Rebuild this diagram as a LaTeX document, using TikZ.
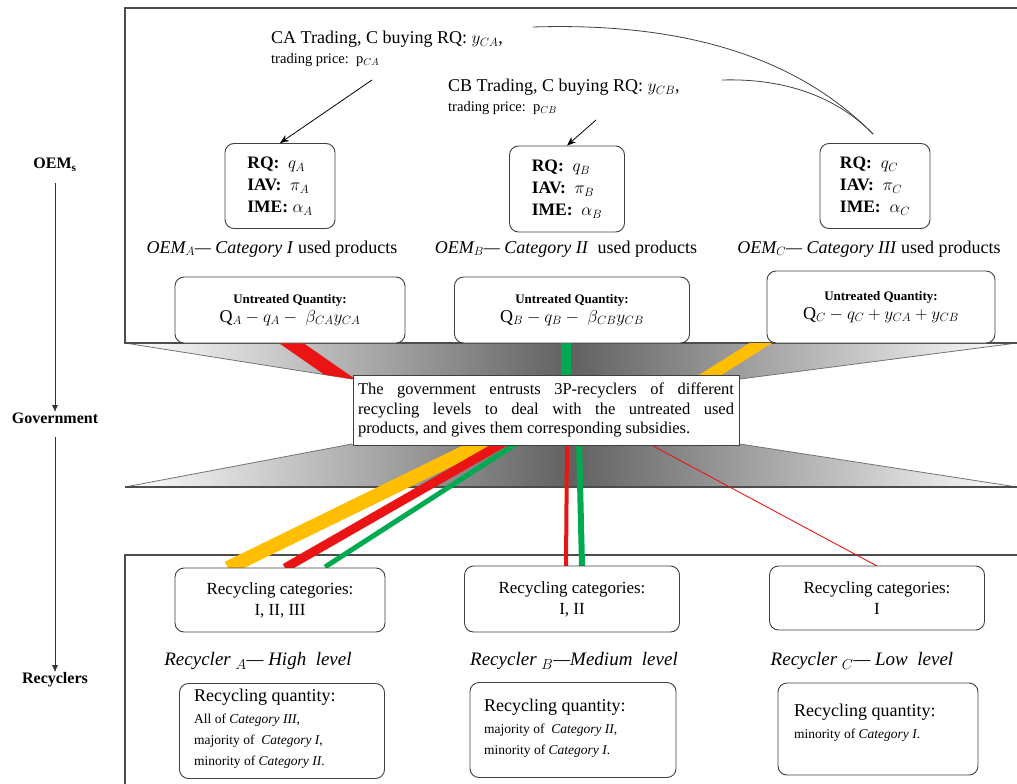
\documentclass[tikz,border=0pt]{standalone}
\usepackage{fontspec}
\setmainfont{Liberation Serif}
\usetikzlibrary{arrows.meta,calc}
\definecolor{cred}{RGB}{235,20,20}
\definecolor{cgreen}{RGB}{0,170,80}
\definecolor{corange}{RGB}{255,190,0}
\begin{document}
\begin{tikzpicture}[x=1pt,y=-1pt,
  rbox/.style={draw=black!75, rounded corners=9pt, line width=0.9pt, fill=white, inner sep=0pt},
  frame/.style={draw=black!70, line width=1.4pt},
  side/.style={font=\bfseries\fontsize{16}{19}\selectfont},
  main/.style={font=\fontsize{18}{20}\selectfont},
  flow/.style={-{Latex[length=7pt,width=6pt]}, line width=0.8pt, black!80},
  tarrow/.style={-{Stealth[length=9pt,width=7pt]}, line width=0.8pt},
  catbox/.style={rbox, minimum width=210pt, minimum height=64pt, align=center, font=\fontsize{17}{21}\selectfont},
  qbox/.style={rbox, minimum width=205pt, minimum height=95pt},
  qtext/.style={anchor=north west, align=left, inner sep=0pt, font=\fontsize{13.5}{21}\selectfont},
  rqbox/.style={rbox, minimum width=110pt, minimum height=85pt, align=left, font=\fontsize{17.5}{22}\selectfont},
  ubox/.style={rbox, minimum height=66pt, align=center},
  lvl/.style={font=\itshape\fontsize{19}{22}\selectfont},
  oemlbl/.style={font=\fontsize{18}{21}\selectfont}
]
\useasboundingbox (0,0) rectangle (1017,784);

% ---------- left column ----------
\node[side] (sO) at (55,165) {OEM\textsubscript{s}};
\node[side] (sG) at (55,418) {Government};
\node[side] (sR) at (55,680) {Recyclers};
\draw[flow] ($(sO.south)+(0,8)$) -- ($(sG.north)+(0,3)$);
\draw[flow] ($(sG.south)+(0,10)$) -- ($(sR.north)+(0,3)$);

% ---------- funnels ----------
\shade[left color=white, right color=white, middle color=black!62]
  (125,343) -- (1017,343) -- (740,379) -- (352,379) -- cycle;
\shade[left color=white, right color=white, middle color=black!62]
  (352,444) -- (740,444) -- (1017,487) -- (125,487) -- cycle;
\draw[black!55, line width=0.8pt] (125,343) -- (352,379) (1017,343) -- (740,379);
\draw[black!55, line width=0.8pt] (352,444) -- (125,487) (740,444) -- (1017,487);
\draw[black!70, line width=1.2pt] (125,487) -- (1017,487);

% ---------- frames ----------
\draw[frame] (1017,8) -- (125,8) -- (125,343) -- (1017,343);
\draw[frame] (1017,555) -- (125,555) -- (125,784);

% ---------- top half nodes ----------
\node[main, anchor=north west, align=left, inner sep=0pt] (tA) at (271,31)
  {CA Trading, C buying RQ: $y_{CA}$,\\\fontsize{14.5}{18}\selectfont trading price:\ \ $\mathrm{p}_{CA}$};
\node[main, anchor=north west, align=left, inner sep=0pt] (tB) at (448,79)
  {CB Trading, C buying RQ: $y_{CB}$,\\\fontsize{14.5}{18}\selectfont trading price:\ \ $\mathrm{p}_{CB}$};

\node[rqbox] (rqA) at (280,186) {\textbf{RQ:}\ \ $q_A$\\\textbf{IAV:}\ \ $\pi_A$\\\textbf{IME:} $\alpha_A$};
\node[rqbox, minimum width=115pt, minimum height=86pt] (rqB) at (567,189) {\textbf{RQ:}\ \ $q_B$\\\textbf{IAV:}\ \ $\pi_B$\\\textbf{IME:}\ \ $\alpha_B$};
\node[rqbox] (rqC) at (875,186) {\textbf{RQ:}\ \ $q_C$\\\textbf{IAV:}\ \ $\pi_C$\\\textbf{IME:}\ \ $\alpha_C$};

\coordinate (aA) at (372,80);
\coordinate (aB) at (596,120);
\coordinate (c1) at (533,27);
\coordinate (c2) at (722,80);
\coordinate (cEnd) at (873,134);
\draw[tarrow] (aA) -- (rqA.north);
\draw[tarrow] (aB) -- (rqB.north);
\draw[line width=0.8pt, black!75] (c1) .. controls (690,22) and (800,60) .. (cEnd);
\draw[line width=0.8pt, black!75] (c2) .. controls (790,78) and (840,100) .. (cEnd);

\node[oemlbl] (oA) at (272,249) {\textit{OEM$_A$— Category I} used products};
\node[oemlbl] (oB) at (566,249) {\textit{OEM$_B$— Category II} \ used products};
\node[oemlbl] (oC) at (869,249) {\textit{OEM$_C$— Category III} used products};

% ---------- colored flows (top) ----------
\begin{scope}
\clip (125,343) -- (1017,343) -- (740,379) -- (352,379) -- cycle;
\coordinate (rA1) at (281,336); \coordinate (rA2) at (350,384);
\coordinate (gB1) at (566,336); \coordinate (gB2) at (566,384);
\coordinate (oC1) at (772,336); \coordinate (oC2) at (696,384);
\draw[cred, line width=14pt] (rA1) -- (rA2);
\draw[cgreen, line width=10pt] (gB1) -- (gB2);
\draw[corange, line width=12pt] (oC1) -- (oC2);
\end{scope}

\node[ubox, minimum width=230pt] (uA) at (290,310)
  {\bfseries\fontsize{13}{15}\selectfont Untreated Quantity:\\[3pt]\mdseries\fontsize{18}{20}\selectfont Q$_A - q_A -\ \beta_{CA}y_{CA}$};
\node[ubox, minimum width=235pt] (uB) at (572,310)
  {\bfseries\fontsize{13}{15}\selectfont Untreated Quantity:\\[3pt]\mdseries\fontsize{18}{20}\selectfont Q$_B - q_B -\ \beta_{CB}y_{CB}$};
\node[ubox, minimum width=228pt, minimum height=72pt] (uC) at (881,307)
  {\bfseries\fontsize{13}{15}\selectfont Untreated Quantity:\\[3pt]\mdseries\fontsize{18}{20}\selectfont Q$_C - q_C + y_{CA} + y_{CB}$};

% ---------- colored flows (bottom) ----------
\coordinate (g1) at (490,440); \coordinate (e1) at (228,568);
\coordinate (g2) at (508,440); \coordinate (e2) at (285,568);
\coordinate (g3) at (522,440); \coordinate (e3) at (325,567);
\coordinate (g4) at (567,440); \coordinate (e4) at (566,566);
\coordinate (g5) at (579,440); \coordinate (e5) at (582,566);
\coordinate (g6) at (642,440); \coordinate (e6) at (877,566);
\draw[corange, line width=14pt] (g1) -- (e1);
\draw[cred, line width=9pt] (g2) -- (e2);
\draw[cgreen, line width=5pt] (g3) -- (e3);
\draw[cred, line width=4pt] (g4) -- (e4);
\draw[cgreen, line width=6pt] (g5) -- (e5);
\draw[cred, line width=0.9pt] (g6) -- (e6);

% ---------- government box ----------
\node[draw=black!75, line width=1pt, fill=white, text width=376pt, align=justify, inner sep=5pt,
  font=\fontsize{16.5}{19.5}\selectfont, minimum height=70pt] (gov) at (546,410)
  {The government entrusts 3P-recyclers of different\linebreak recycling levels to deal with the untreated used\linebreak products, and gives them corresponding subsidies.};

% ---------- bottom half ----------
\node[catbox] (catA) at (280,600) {Recycling categories:\\I, II, III};
\node[catbox, minimum width=215pt, minimum height=66pt] (catB) at (572,599) {Recycling categories:\\I, II};
\node[catbox, minimum width=215pt] (catC) at (877,598) {Recycling categories:\\I};

\node[lvl] (lA) at (258,661) {Recycler $_A$— High\ \ level};
\node[lvl] (lB) at (574,661) {Recycler $_B$—Medium\ \ level};
\node[lvl] (lC) at (862,661) {Recycler $_C$— Low\ \ level};

\node[qbox] (qA) at (282,731) {};
\node[qtext] (qAt) at (194,689)
  {\fontsize{18}{21}\selectfont Recycling quantity:\\[1pt]\fontsize{13.5}{21}\selectfont All of \textit{Category III},\\majority of \ \textit{Category I},\\minority of \textit{Category II}.};
\node[qbox, minimum width=206pt, minimum height=95pt] (qB) at (573,730) {};
\node[qtext] (qBt) at (484,699)
  {\fontsize{18}{21}\selectfont Recycling quantity:\\[1pt]\fontsize{13.5}{21}\selectfont majority of \ \textit{Category II},\\minority of \textit{Category I}.};
\node[qbox, minimum width=200pt, minimum height=92pt] (qC) at (878,729) {};
\node[qtext] (qCt) at (794,704)
  {\fontsize{18}{21}\selectfont Recycling quantity:\\[1pt]\fontsize{13.5}{21}\selectfont minority of \textit{Category I}.};
\end{tikzpicture}
\end{document}
